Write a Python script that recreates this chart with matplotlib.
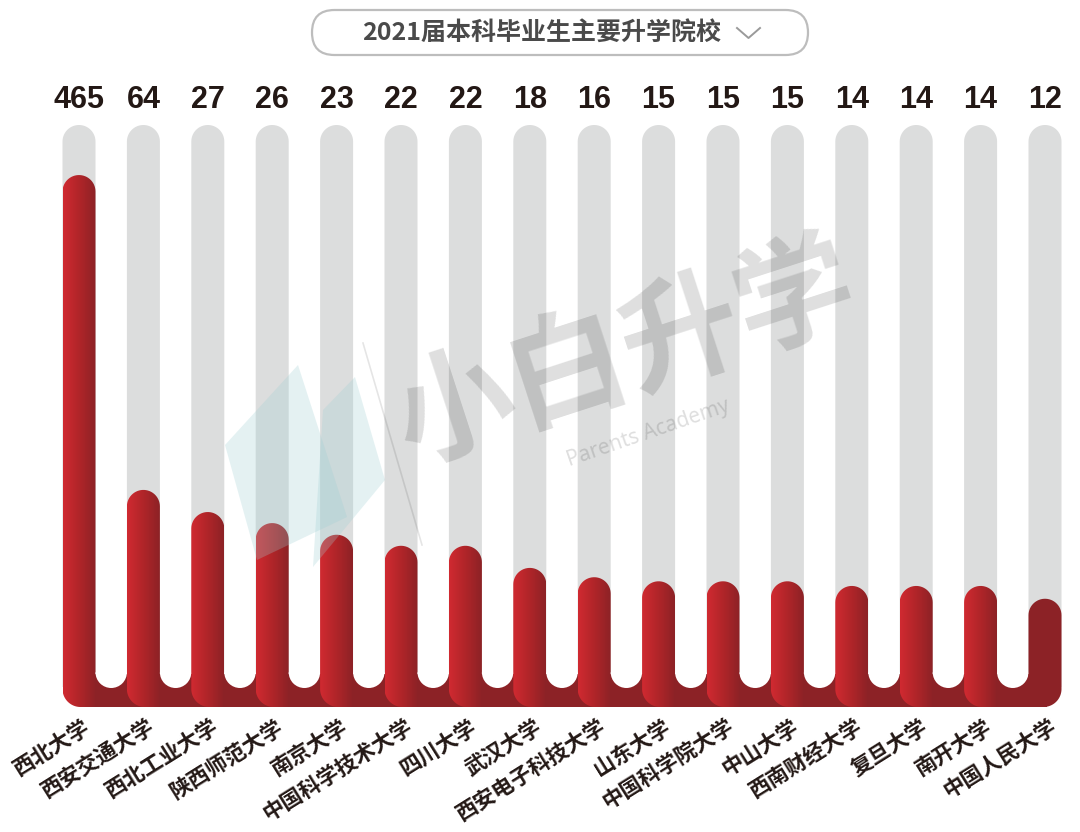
import numpy as np
import matplotlib
matplotlib.use("Agg")
import matplotlib.pyplot as plt
from matplotlib.path import Path
from matplotlib.patches import PathPatch, FancyBboxPatch, Wedge, Polygon
from matplotlib.colors import LinearSegmentedColormap

plt.rcParams['font.family'] = ['Noto Sans CJK SC', 'DejaVu Sans']

# data
title = "2021届本科毕业生主要升学院校"
schools = ["西北大学", "西安交通大学", "西北工业大学", "陕西师范大学", "南京大学",
           "中国科学技术大学", "四川大学", "武汉大学", "西安电子科技大学", "山东大学",
           "中国科学院大学", "中山大学", "西南财经大学", "复旦大学", "南开大学", "中国人民大学"]
counts = [465, 64, 27, 26, 23, 22, 22, 18, 16, 15, 15, 15, 14, 14, 14, 12]
# drawn bar length, % of the grey track (the infographic is not to scale)
bar_len = [91.4, 37.3, 33.5, 31.6, 29.6, 27.7, 27.7, 23.9, 22.3, 21.6, 21.6, 21.6,
           20.8, 20.8, 20.8, 18.6]

# layout (pixels, y up)
W, H = 1080, 832
x0, step, bw = 79, 64.4, 33
base, track_top = 125, 707
unit = (track_top - base) / 100.0
r_top = bw / 2
r_bot = 18
slot_y = 144  # bottom of the white slots between bars

light_red, dark_red = "#d02a31", "#8c2226"
grad_cmap = LinearSegmentedColormap.from_list("bar", [light_red, "#b02529", dark_red])

fig = plt.figure(figsize=(W / 100, H / 100), dpi=100)
ax = fig.add_axes([0, 0, 1, 1])
ax.set_xlim(0, W)
ax.set_ylim(0, H)
ax.axis("off")


def arc(cx, cy, r, a0, a1, n=30):
    t = np.radians(np.linspace(a0, a1, n))
    return np.column_stack([cx + r * np.cos(t), cy + r * np.sin(t)])


def pill(L, R, bottom, top, rt, rbl=0, rbr=0):
    pts = [np.array([[L, bottom + rbl], [L, top - rt]])]
    pts.append(arc((L + R) / 2, top - rt, rt, 180, 0))
    pts.append(np.array([[R, bottom + rbr]]))
    if rbr:
        pts.append(arc(R - rbr, bottom + rbr, rbr, 0, -90))
    else:
        pts.append(np.array([[R, bottom]]))
    pts.append(np.array([[L + rbl, bottom]]))
    if rbl:
        pts.append(arc(L + rbl, bottom + rbl, rbl, -90, -180))
    v = np.vstack(pts)
    return Path(np.vstack([v, v[:1]]), closed=True)


n = len(schools)
centers = [x0 + i * step for i in range(n)]

# grey tracks
for cx in centers:
    p = pill(cx - bw / 2, cx + bw / 2, base + 20, track_top, r_top)
    ax.add_patch(PathPatch(p, facecolor="#dcdddd", edgecolor="none", zorder=1))

grad = np.linspace(0, 1, 256).reshape(1, -1)
for i, (cx, v) in enumerate(zip(centers, bar_len)):
    L, R = cx - bw / 2, cx + bw / 2
    top = base + v * unit
    last = i == n - 1
    p = pill(L, R, base, top, r_top, r_bot, r_bot if last else 0)
    z = 2 + i * 0.1
    if last:
        ax.add_patch(PathPatch(p, facecolor=dark_red, edgecolor="none", zorder=z))
    else:
        patch = PathPatch(p, facecolor="none", edgecolor="none", zorder=z)
        ax.add_patch(patch)
        im = ax.imshow(grad, cmap=grad_cmap, extent=(L, R, base, top), aspect="auto",
                       interpolation="bilinear", zorder=z)
        im.set_clip_path(patch)
        # joining piece to the next bar, with a white rounded slot cut out
        nL = centers[i + 1] - bw / 2
        gap = nL - R
        ax.fill([R - 1, nL + r_bot, nL + r_bot, R - 1],
                [base, base, slot_y + gap / 2 - 1.5, slot_y + gap / 2 - 1.5],
                color=dark_red, lw=0, zorder=z + 0.01)
        ax.add_patch(Wedge(((R + nL) / 2, slot_y + gap / 2), gap / 2, 180, 360,
                           facecolor="white", edgecolor="none", zorder=z + 0.02))
    ax.text(cx, 732, str(counts[i]), ha="center", va="center", fontsize=22,
            fontweight="bold", family="Liberation Sans", color="#231815", zorder=5)
    ax.text(cx + 4, 116, schools[i], ha="right", va="top", rotation=32,
            rotation_mode="anchor", fontsize=15.5, fontweight="bold",
            color="#231815", zorder=5)

ax.set_xlim(0, W)
ax.set_ylim(0, H)

# title box
ax.add_patch(FancyBboxPatch((312, 777), 496, 45, boxstyle="round,pad=0,rounding_size=22.5",
                            facecolor="white", edgecolor="#bdbdbd", lw=1.6, zorder=6))
ax.text(542, 799, title, ha="center", va="center", fontsize=18, fontweight="bold",
        color="#4a4a4a", zorder=7)
ax.plot([737, 748.5, 760], [804, 794, 804], color="#9a9a9a", lw=1.4, zorder=7)

# watermark
ax.add_patch(Polygon([(225, 387), (298, 467), (347, 315), (257, 272)], closed=True,
                     facecolor="#9fcfd3", alpha=0.28, edgecolor="none", zorder=8))
ax.add_patch(Polygon([(323, 422), (355, 455), (385, 352), (313, 265)], closed=True,
                     facecolor="#9fcfd3", alpha=0.28, edgecolor="none", zorder=8))
ax.plot([363, 422], [489, 287], color="black", alpha=0.1, lw=1.2, zorder=8)
ax.text(625, 477, "小白升学", ha="center", va="center", rotation=18, fontsize=86,
        fontweight="bold", color="black", alpha=0.13, zorder=8)
ax.text(648, 399, "Parents Academy", ha="center", va="center", rotation=19, fontsize=15,
        family="Noto Sans", color="black", alpha=0.13, zorder=8)

fig.savefig("out.png", dpi=100)
